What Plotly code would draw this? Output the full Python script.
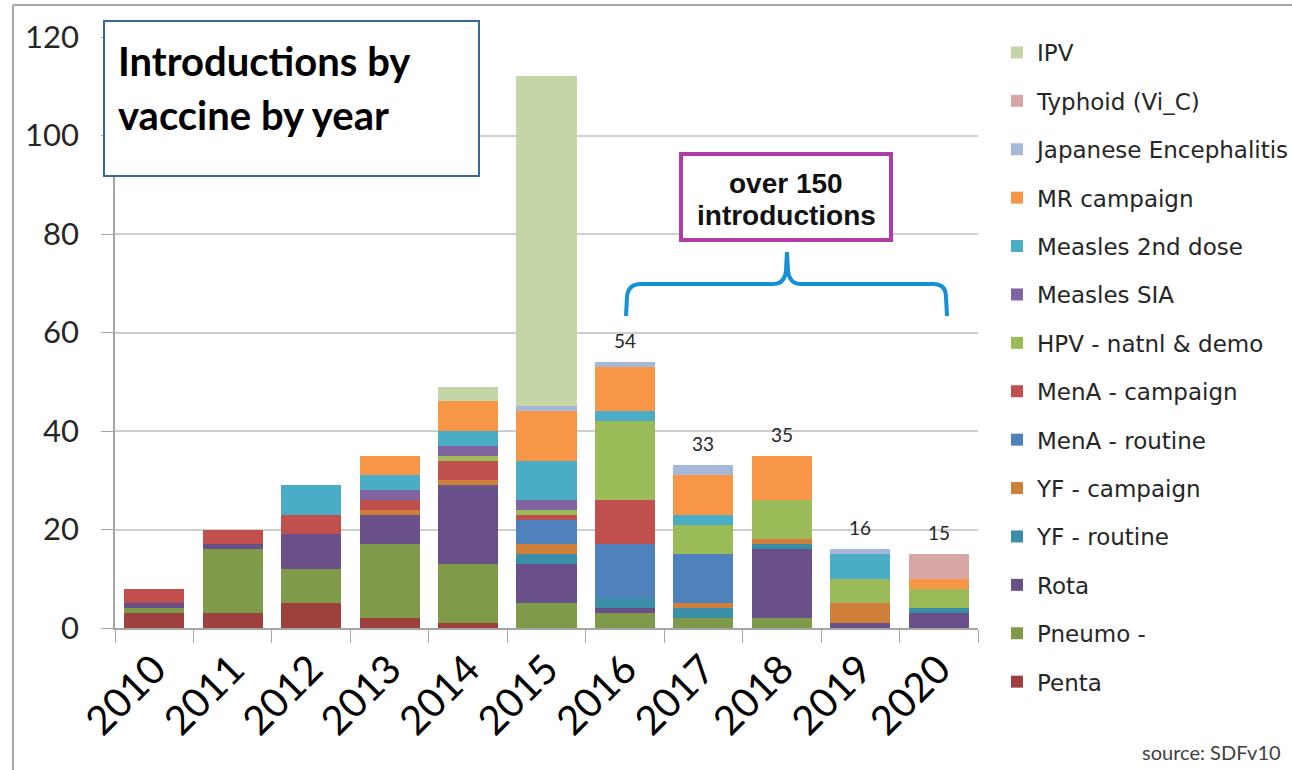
import plotly.graph_objects as go

# ---------------- data ----------------
years = ["2010", "2011", "2012", "2013", "2014", "2015", "2016", "2017", "2018", "2019", "2020"]

penta         = [3, 3, 5, 2, 1, 0, 0, 0, 0, 0, 0]
pneumo        = [1, 13, 7, 15, 12, 5, 3, 2, 2, 0, 0]
rota          = [1, 1, 7, 6, 16, 8, 1, 0, 14, 1, 3]
yf_routine    = [0, 0, 0, 0, 0, 2, 2, 2, 1, 0, 1]
yf_campaign   = [0, 0, 0, 1, 1, 2, 0, 1, 1, 4, 0]
mena_routine  = [0, 0, 0, 0, 0, 5, 11, 10, 0, 0, 0]
mena_campaign = [3, 3, 4, 2, 4, 1, 9, 0, 0, 0, 0]
hpv           = [0, 0, 0, 0, 1, 1, 16, 6, 8, 5, 4]
measles_sia   = [0, 0, 0, 2, 2, 2, 0, 0, 0, 0, 0]
measles_2nd   = [0, 0, 6, 3, 3, 8, 2, 2, 0, 5, 0]
mr_campaign   = [0, 0, 0, 4, 6, 10, 9, 8, 9, 0, 2]
je            = [0, 0, 0, 0, 0, 1, 1, 2, 0, 1, 0]
typhoid       = [0, 0, 0, 0, 0, 0, 0, 0, 0, 0, 5]
ipv           = [0, 0, 0, 0, 3, 67, 0, 0, 0, 0, 0]

series_names = ["Penta", "Pneumo -", "Rota", "YF - routine", "YF - campaign",
                "MenA - routine", "MenA - campaign", "HPV - natnl & demo",
                "Measles SIA", "Measles 2nd dose", "MR campaign",
                "Japanese Encephalitis", "Typhoid (Vi_C)", "IPV"]
series_values = [penta, pneumo, rota, yf_routine, yf_campaign, mena_routine,
                 mena_campaign, hpv, measles_sia, measles_2nd, mr_campaign,
                 je, typhoid, ipv]
series_colors = ["#9E403D", "#7F9A48", "#6A5088", "#3A8EA6", "#D07F3A",
                 "#4F81BD", "#C0504D", "#9BBB59", "#8064A2", "#4BACC6",
                 "#F79646", "#A5B8D8", "#D9A6A6", "#C4D6A8"]

labelled_years = ["2016", "2017", "2018", "2019", "2020"]

# ---------------- layout helpers (pixel -> paper) ----------------
W, H = 1292, 770
L, R, T, B = 115, 978, 37, 628


def px(x):
    return (x - L) / (R - L)


def py(y):
    return (B - y) / (B - T)


fig = go.Figure()
n = len(series_names)
for i, (name, vals, col) in enumerate(zip(series_names, series_values, series_colors)):
    fig.add_trace(go.Bar(
        x=years, y=vals, name=name, marker_color=col,
        marker_line_width=0, legendrank=100 + (n - i), legendgroup=f"g{i:02d}",
    ))

totals = [sum(v[j] for v in series_values) for j in range(len(years))]
annotations = []
for j, yr in enumerate(years):
    if yr in labelled_years:
        annotations.append(dict(
            x=j, y=totals[j], xref="x", yref="y", text=str(totals[j]),
            showarrow=False, yanchor="bottom", yshift=8,
            font=dict(family="Lato", size=19, color="#262626")))

# title box text
annotations.append(dict(xref="paper", yref="paper", x=px(116), y=py(61),
                        xanchor="left", yanchor="middle", showarrow=False,
                        text="<b>Introductions by</b>",
                        font=dict(family="Lato", size=40, color="#000000")))
annotations.append(dict(xref="paper", yref="paper", x=px(116), y=py(115),
                        xanchor="left", yanchor="middle", showarrow=False,
                        text="<b>vaccine by year</b>",
                        font=dict(family="Lato", size=40, color="#000000")))
# magenta box text
annotations.append(dict(xref="paper", yref="paper", x=px(786), y=py(184),
                        xanchor="center", yanchor="middle", showarrow=False,
                        text="<b>over 150</b>",
                        font=dict(family="Liberation Sans", size=28, color="#111111")))
annotations.append(dict(xref="paper", yref="paper", x=px(786), y=py(216),
                        xanchor="center", yanchor="middle", showarrow=False,
                        text="<b>introductions</b>",
                        font=dict(family="Liberation Sans", size=28, color="#111111")))
# source
annotations.append(dict(xref="paper", yref="paper", x=px(1283), y=py(752),
                        xanchor="right", yanchor="middle", showarrow=False,
                        text="source: SDFv10",
                        font=dict(family="Lato", size=20, color="#404040")))


def P(x, y):
    return f"{px(x):.5f},{py(y):.5f}"


brace = ("M " + P(626, 316) + " L " + P(627, 297) + " Q " + P(628, 284) + " " + P(641, 284) +
         " L " + P(773, 284) + " Q " + P(785, 284) + " " + P(786, 270) + " L " + P(787, 252) +
         " L " + P(788, 270) + " Q " + P(789, 284) + " " + P(801, 284) +
         " L " + P(933, 284) + " Q " + P(946, 284) + " " + P(946, 297) + " L " + P(947, 316))

shapes = [
    # outer frame (left and top edges)
    dict(type="line", xref="paper", yref="paper", x0=px(13), x1=px(13), y0=py(5), y1=py(775),
         line=dict(color="#A6A6A6", width=2)),
    dict(type="line", xref="paper", yref="paper", x0=px(13), x1=px(1300), y0=py(5), y1=py(5),
         line=dict(color="#A6A6A6", width=2)),
    # title box
    dict(type="rect", xref="paper", yref="paper", x0=px(104), x1=px(479), y0=py(21), y1=py(176),
         line=dict(color="#3C679A", width=2), fillcolor="white"),
    # magenta box
    dict(type="rect", xref="paper", yref="paper", x0=px(681), x1=px(891), y0=py(154), y1=py(240),
         line=dict(color="#B03CA8", width=4), fillcolor="white"),
    # brace
    dict(type="path", xref="paper", yref="paper", path=brace,
         line=dict(color="#1590D6", width=4)),
]

fig.update_layout(
    width=W, height=H,
    margin=dict(l=L, r=W - R, t=T, b=H - B, pad=0, autoexpand=False),
    barmode="stack", bargap=0.235,
    plot_bgcolor="white", paper_bgcolor="white",
    annotations=annotations, shapes=shapes,
    legend=dict(
        x=px(997), y=py(31), xanchor="left", yanchor="top",
        traceorder="grouped", tracegroupgap=15.5, maxheight=760,
        font=dict(family="DejaVu Sans", size=23, color="#262626"),
        bgcolor="rgba(0,0,0,0)",
    ),
    xaxis=dict(
        type="category", range=[-0.5, len(years) - 0.5],
        showline=True, linecolor="#A6A6A6", linewidth=1.5,
        ticks="outside", tickson="boundaries", ticklen=13, tickcolor="#A6A6A6",
        tickangle=-45, showgrid=False,
        tickfont=dict(family="Lato", size=40, color="#000000"),
    ),
    yaxis=dict(
        range=[0, 120], dtick=20, showline=True, linecolor="#A6A6A6", linewidth=1.5,
        ticks="outside", ticklen=12, tickcolor="#A6A6A6",
        gridcolor="#CFCFCF", gridwidth=1.5, zeroline=False,
        ticklabelstandoff=16,
        tickfont=dict(family="Lato", size=31, color="#262626"),
    ),
)

fig.write_html("out.html")
